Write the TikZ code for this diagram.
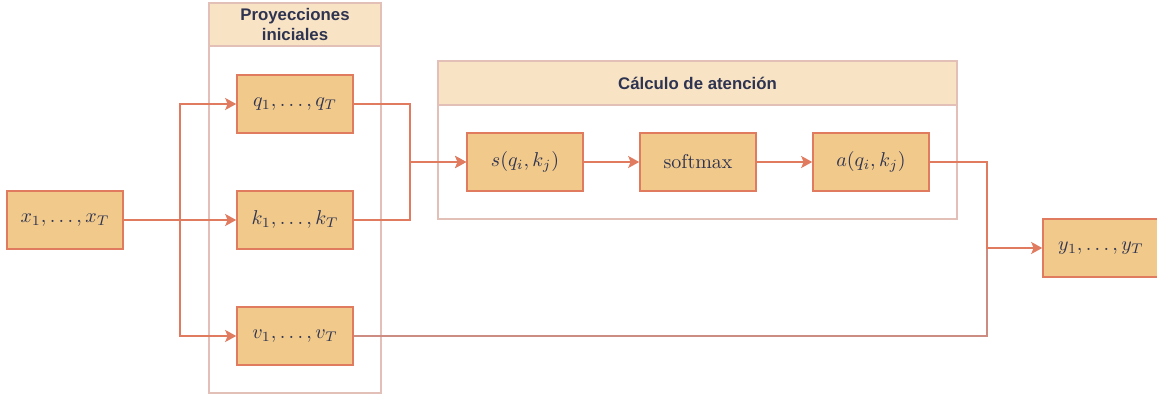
\documentclass[tikz,border=0pt]{standalone}
\usepackage{fontspec}
\newfontfamily\headfont{Liberation Sans}
\usepackage{xcolor}
\usepackage{tikz}
\usetikzlibrary{positioning,arrows.meta,calc}
\definecolor{cBox}{RGB}{240,201,139}
\definecolor{cEdge}{RGB}{224,123,95}
\definecolor{cHead}{RGB}{248,227,197}
\definecolor{cFrame}{RGB}{226,192,184}
\definecolor{cMute}{RGB}{204,140,130}
\definecolor{cInk}{RGB}{46,51,80}

\begin{document}
\begin{tikzpicture}[x=0.5pt,y=-0.5pt,
   blk/.style={draw=cEdge,fill=cBox,line width=0.8pt,minimum width=58pt,
     minimum height=29pt,inner sep=0pt,text=cInk},
   grp/.style={draw=cFrame,fill=white,line width=0.8pt,inner sep=0pt},
   hdr/.style={draw=cFrame,fill=cHead,line width=0.8pt,inner sep=0pt,
     text=cInk,align=center,font=\headfont\bfseries\fontsize{8.4}{10}\selectfont},
   conn/.style={draw=cEdge,line width=0.8pt,-{Stealth[length=5.5pt,width=6pt,inset=1.2pt]}}]
 \useasboundingbox (0,0) rectangle (1157,395);
 % groups
 \node[grp,minimum width=86pt,minimum height=195pt] (proj) at (295,198) {};
 \node[hdr,minimum width=86pt,minimum height=21.5pt] (projh) at (295,24.5)
   {Proyecciones\\iniciales};
 \node[grp,minimum width=259.5pt,minimum height=79pt] (aten) at (697.5,140) {};
 \node[hdr,minimum width=259.5pt,minimum height=22pt] (atenh) at (697.5,83)
   {Cálculo de atención};
 % blocks
 \node[blk] (x) at (65,220) {$x_1,\ldots,x_T$};
 \node[blk] (q) at (295,104) {$q_1,\ldots,q_T$};
 \node[blk] (k) at (295,220) {$k_1,\ldots,k_T$};
 \node[blk] (v) at (295,336) {$v_1,\ldots,v_T$};
 \node[blk] (s) at (525,162) {$s(q_i,k_j)$};
 \node[blk] (sm) at (698,162) {softmax};
 \node[blk] (a) at (871,162) {$a(q_i,k_j)$};
 \node[blk] (y) at (1101,248) {$y_1,\ldots,y_T$};
 % turn points
 \coordinate (split) at (180,220);
 \coordinate (joinS) at (410,162);
 \coordinate (joinY) at (987,248);
 % connectors
 \draw[conn] (x.east) -- (split) |- (q.west);
 \draw[conn] (x.east) -- (k.west);
 \draw[conn] (split) |- (v.west);
 \draw[conn] (q.east) -| (joinS) -- (s.west);
 \draw[conn] (k.east) -| (joinS) -- (s.west);
 \draw[conn] (s) -- (sm);
 \draw[conn] (sm) -- (a);
 \draw[draw=cMute,line width=0.8pt] (v.east) -| (joinY);
 \draw[conn] (a.east) -| (joinY) -- (y.west);
\end{tikzpicture}
\end{document}
